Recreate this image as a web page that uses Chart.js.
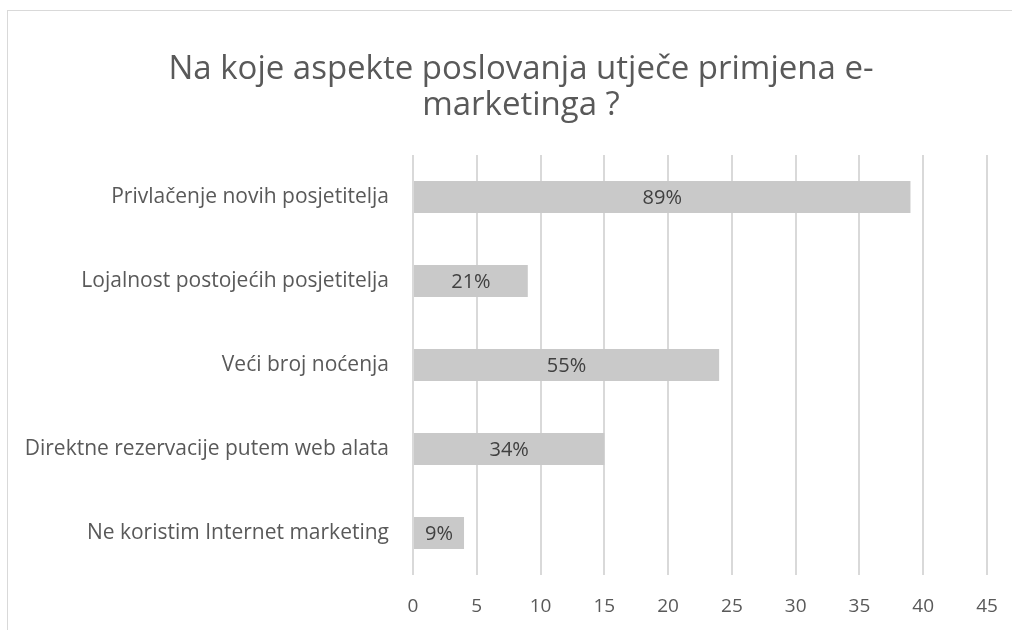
<!DOCTYPE html>
<html>
<head>
<meta charset="utf-8">
<script src="https://cdn.jsdelivr.net/npm/chart.js@4"></script>
<style>
    body { margin: 0; background: #fff; overflow: hidden; }
    #frame {
        position: absolute; left: 7px; top: 10px;
        width: 1100px; height: 700px;
        border: 1px solid #d9d9d9;
    }
    #wrap { position: absolute; left: 0; top: 0; width: 1012px; height: 630px; }
</style>
</head>
<body>
<div id="frame"></div>
<div id="wrap"><canvas id="grafico"></canvas></div>
<script>
const categorias = [
    "Privlačenje novih posjetitelja",
    "Lojalnost postojećih posjetitelja",
    "Veći broj noćenja",
    "Direktne rezervacije putem web alata",
    "Ne koristim Internet marketing",
];
const odgovori = [39, 9, 24, 15, 4];
const postoci = ["89%", "21%", "55%", "34%", "9%"];
const naslov = ["Na koje aspekte poslovanja utječe primjena e-", "marketinga ?"];

const fontFam = "'Open Sans', sans-serif";

// naslov - centriran na cijeli okvir grafikona (koji je širi od prozora)
const naslovPlugin = {
    id: "naslov",
    afterDraw(chart) {
        const ctx = chart.ctx;
        ctx.save();
        ctx.font = "33px " + fontFam;
        ctx.fillStyle = "#595959";
        ctx.textAlign = "center";
        ctx.textBaseline = "middle";
        naslov.forEach((linija, i) => {
            ctx.fillText(linija, 521, 70 + i * 36);
        });
        ctx.restore();
    },
};

// oznake postotaka u sredini trake
const oznakePlugin = {
    id: "oznake",
    afterDatasetsDraw(chart) {
        const ctx = chart.ctx;
        const meta = chart.getDatasetMeta(0);
        ctx.save();
        ctx.font = "20px " + fontFam;
        ctx.fillStyle = "#404040";
        ctx.textAlign = "center";
        ctx.textBaseline = "middle";
        meta.data.forEach((bar, i) => {
            const x = (bar.base + bar.x) / 2;
            ctx.fillText(postoci[i], x, bar.y + 1);
        });
        ctx.restore();
    },
};

const ctx = document.getElementById("grafico");
new Chart(ctx, {
    type: "bar",
    data: {
        labels: categorias,
        datasets: [
            {
                label: "Odgovori",
                data: odgovori,
                backgroundColor: "#c9c9c9",
                borderWidth: 0,
                barPercentage: 0.76,
                categoryPercentage: 0.5,
            },
        ],
    },
    options: {
        indexAxis: "y",
        responsive: true,
        maintainAspectRatio: false,
        animation: false,
        layout: {
            padding: { left: 0, right: 25, top: 155, bottom: 0 },
        },
        plugins: {
            legend: { display: false },
            tooltip: { enabled: false },
            title: { display: false },
        },
        scales: {
            x: {
                min: 0,
                max: 45,
                ticks: {
                    stepSize: 5,
                    color: "#595959",
                    font: { family: fontFam, size: 19 },
                    padding: 20,
                },
                grid: { color: "#d9d9d9", lineWidth: 2, drawTicks: false },
                border: { display: false },
                afterFit(scale) {
                    scale.height = 55;
                    scale.paddingRight = 0;
                },
            },
            y: {
                ticks: {
                    color: "#595959",
                    font: { family: fontFam, size: 21 },
                    padding: 16,
                },
                grid: { display: false },
                border: { display: false },
                afterFit(scale) { scale.width = 413; },
            },
        },
    },
    plugins: [oznakePlugin, naslovPlugin],
});
</script>
</body>
</html>
